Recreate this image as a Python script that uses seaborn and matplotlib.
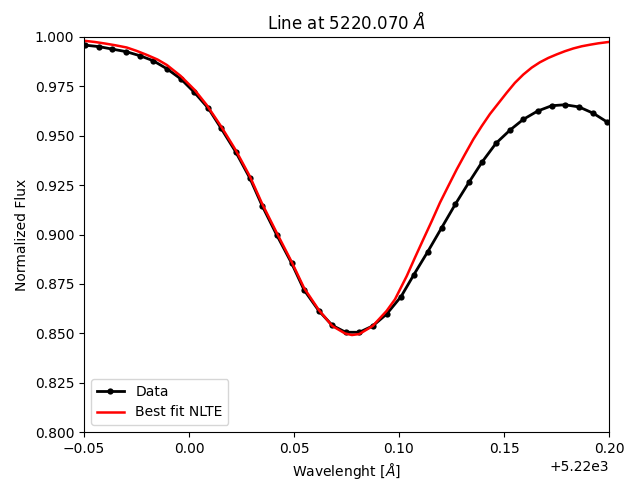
import matplotlib
matplotlib.use("Agg")
import matplotlib.pyplot as plt
import seaborn as sns
import numpy as np

line_center = 5220.0

data_dx = [-0.0497, -0.0427, -0.0367, -0.0300, -0.0233, -0.0171, -0.0105, -0.0038,
           0.0026, 0.0092, 0.0152, 0.0222, 0.0290, 0.0349, 0.0418, 0.0489, 0.0548,
           0.0618, 0.0682, 0.0746, 0.0811, 0.0875, 0.0941, 0.1010, 0.1071, 0.1137,
           0.1203, 0.1268, 0.1333, 0.1397, 0.1462, 0.1529, 0.1592, 0.1660, 0.1727,
           0.1790, 0.1857, 0.1925, 0.1989]
data_flux = [0.9959, 0.9951, 0.9939, 0.9926, 0.9905, 0.9880, 0.9839, 0.9787,
             0.9719, 0.9639, 0.9539, 0.9419, 0.9285, 0.9144, 0.8997, 0.8854, 0.8719,
             0.8614, 0.8540, 0.8505, 0.8505, 0.8537, 0.8597, 0.8686, 0.8797, 0.8913,
             0.9034, 0.9153, 0.9264, 0.9369, 0.9462, 0.9529, 0.9583, 0.9625, 0.9652,
             0.9657, 0.9646, 0.9614, 0.9571]

fit_dx = [-0.0500, -0.0450, -0.0400, -0.0350, -0.0297, -0.0250, -0.0200, -0.0150,
          -0.0105, -0.0040, 0.0027, 0.0084, 0.0152,
          0.0222, 0.0290, 0.0349, 0.0418, 0.0489, 0.0548, 0.0618, 0.0682, 0.0743,
          0.0776, 0.0811, 0.0875, 0.0941, 0.0981, 0.1037, 0.1076, 0.1116, 0.1156,
          0.1195, 0.1235, 0.1275, 0.1314, 0.1354, 0.1394, 0.1433, 0.1473, 0.1513,
          0.1552, 0.1592, 0.1632, 0.1671, 0.1711, 0.1751, 0.1790, 0.1830, 0.1870,
          0.1910, 0.1949, 0.2000]
fit_flux = [0.9981, 0.9975, 0.9967, 0.9958, 0.9947, 0.9930, 0.9909, 0.9886,
            0.9858, 0.9803, 0.9732, 0.9656, 0.9549,
            0.9428, 0.9294, 0.9154, 0.9008, 0.8861, 0.8729, 0.8618, 0.8537, 0.8499,
            0.8491, 0.8496, 0.8537, 0.8613, 0.8672, 0.8790, 0.8883, 0.8976, 0.9068,
            0.9161, 0.9246, 0.9330, 0.9406, 0.9482, 0.9549, 0.9610, 0.9664, 0.9718,
            0.9768, 0.9810, 0.9845, 0.9872, 0.9894, 0.9912, 0.9928, 0.9942, 0.9953,
            0.9961, 0.9968, 0.9975]

data_x = [line_center + v for v in data_dx]
fit_x = [line_center + v for v in fit_dx]

fig = plt.figure(figsize=(6.31, 4.82), dpi=100)
ax = fig.add_axes([84/631, 1 - 432/482, (609-84)/631, (432-37)/482])

sns.lineplot(x=data_x, y=data_flux, ax=ax, color="black", marker="o",
             markersize=4.5, markeredgewidth=0, linewidth=2, label="Data",
             sort=False, estimator=None)
sns.lineplot(x=fit_x, y=fit_flux, ax=ax, color="red", linewidth=1.8,
             label="Best fit NLTE", sort=False, estimator=None)

ax.set_xlim(line_center - 0.05, line_center + 0.20)
ax.set_ylim(0.80, 1.00)
ax.set_xticks([line_center + t for t in [-0.05, 0.0, 0.05, 0.10, 0.15, 0.20]])
ax.set_yticks(np.arange(0.800, 1.0001, 0.025))
ax.yaxis.set_major_formatter(matplotlib.ticker.FormatStrFormatter("%.3f"))
ax.set_xlabel(r"Wavelenght [$\AA$]")
ax.set_ylabel("Normalized Flux")
ax.set_title(r"Line at 5220.070 $\AA$")
ax.legend(loc="lower left")

fig.savefig("out.png", dpi=100)
